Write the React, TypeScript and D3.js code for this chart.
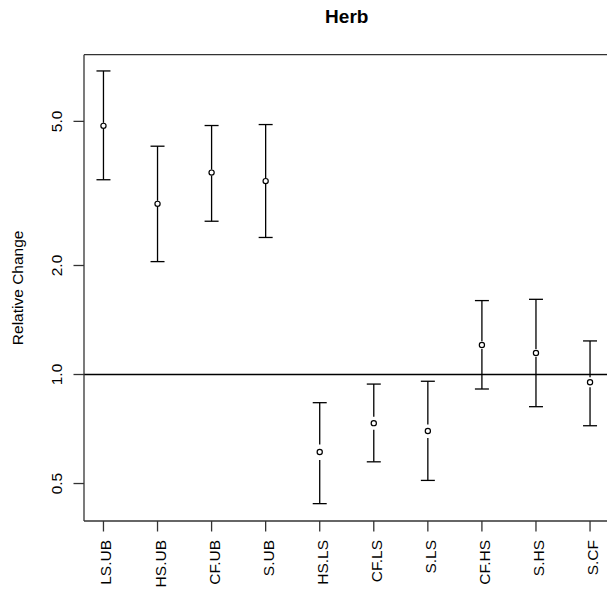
import React from "react";
import * as d3 from "d3";

const categories = ["LS.UB", "HS.UB", "CF.UB", "S.UB", "HS.LS", "CF.LS", "S.LS", "CF.HS", "S.HS", "S.CF"];
const estimates = [4.86, 2.96, 3.61, 3.42, 0.611, 0.734, 0.698, 1.206, 1.147, 0.952];
const lowerCI = [3.45, 2.05, 2.65, 2.39, 0.44, 0.574, 0.51, 0.912, 0.815, 0.722];
const upperCI = [6.89, 4.27, 4.87, 4.9, 0.836, 0.941, 0.958, 1.6, 1.613, 1.238];
const yTicks = [0.5, 1, 2, 5];
const yTickLabels = ["0.5", "1.0", "2.0", "5.0"];
const title = "Herb";
const yLabel = "Relative Change";

const W = 607;
const H = 590;
const left = 84;
const right = 609.5;
const top = 54.7;
const bottom = 521;
const font = "'Liberation Sans', Arial, Helvetica, sans-serif";

export default function App() {
  const x = d3.scaleLinear().domain([0.64, 10.36]).range([left, right]);
  const y = d3.scaleLog().domain([0.394, 7.64]).range([bottom, top]);
  const gap = 0.03;
  const cap = 7;
  const edge = W + 5;
  return (
    <div style={{ position: "absolute", left: 0, top: 0, width: W, height: H, overflow: "hidden", background: "#fff" }}>
      <svg width={W} height={H} style={{ display: "block" }} fontFamily={font}>
        <text x={(left + right) / 2} y={23} textAnchor="middle" fontWeight="bold" fontSize={19} fill="#000">
          {title}
        </text>
        <text transform={`translate(23,${(top + bottom) / 2}) rotate(-90)`} textAnchor="middle" fontSize={15.5} fill="#000">
          {yLabel}
        </text>
        <line x1={left} x2={edge} y1={y(1)} y2={y(1)} stroke="#000" strokeWidth={1.3} />
        {categories.map((c, i) => {
          const cx = x(i + 1);
          const yp = y(estimates[i]);
          const yu = y(upperCI[i]);
          const yl = y(lowerCI[i]);
          const ga = Math.min(y(estimates[i] + gap), yp - 3);
          const gb = Math.max(y(estimates[i] - gap), yp + 3);
          return (
            <g key={c} stroke="#000" strokeWidth={1.3}>
              <line x1={cx} x2={cx} y1={yu} y2={ga} />
              <line x1={cx} x2={cx} y1={gb} y2={yl} />
              <line x1={cx - cap} x2={cx + cap} y1={yu} y2={yu} />
              <line x1={cx - cap} x2={cx + cap} y1={yl} y2={yl} />
              <circle cx={cx} cy={yp} r={2.6} fill="#fff" strokeWidth={1.2} />
            </g>
          );
        })}
        <g stroke="#333" strokeWidth={1.3}>
          <line x1={left} x2={edge} y1={top} y2={top} />
          <line x1={left} x2={edge} y1={bottom} y2={bottom} />
          <line x1={left} x2={left} y1={top} y2={bottom} />
        </g>
        {yTicks.map((t, i) => (
          <g key={t}>
            <line x1={left - 10.5} x2={left} y1={y(t)} y2={y(t)} stroke="#333" strokeWidth={1.3} />
            <text transform={`translate(62,${y(t)}) rotate(-90)`} textAnchor="middle" fontSize={15.5} fill="#000">
              {yTickLabels[i]}
            </text>
          </g>
        ))}
        {categories.map((c, i) => (
          <g key={c}>
            <line x1={x(i + 1)} x2={x(i + 1)} y1={bottom} y2={bottom + 10.5} stroke="#333" strokeWidth={1.3} />
            <text transform={`translate(${x(i + 1) + 8},540) rotate(-90)`} textAnchor="end" fontSize={15.5} fill="#000">
              {c}
            </text>
          </g>
        ))}
      </svg>
    </div>
  );
}
